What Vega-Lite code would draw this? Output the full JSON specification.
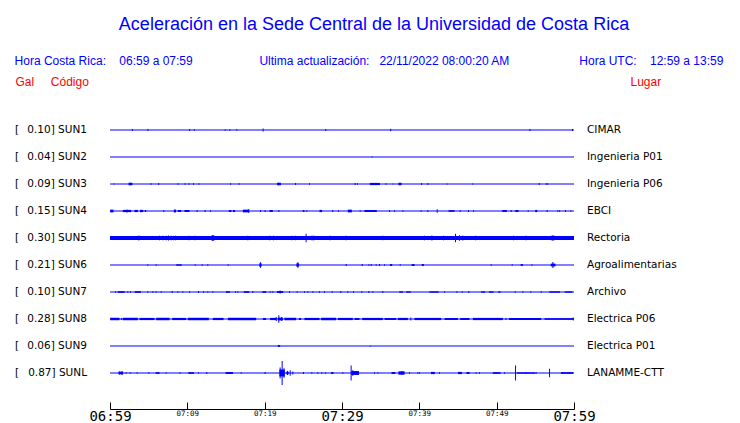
{
  "$schema": "https://vega.github.io/schema/vega-lite/v6.json",
  "autosize": {"type": "none"},
  "width": 464,
  "height": 315,
  "padding": {"left": 110, "top": 94, "right": 166, "bottom": 14},
  "background": "white",
  "config": {"font": "DejaVu Sans", "view": {"stroke": null}},
  "title": {
    "text": "Aceleración en la Sede Central de la Universidad de Costa Rica",
    "subtitle": "Hora Costa Rica:\u00a0\u00a0\u00a0\u00a006:59 a 07:59\u00a0\u00a0\u00a0\u00a0\u00a0\u00a0\u00a0\u00a0\u00a0\u00a0\u00a0\u00a0\u00a0\u00a0\u00a0\u00a0\u00a0\u00a0\u00a0\u00a0Ultima actualización:\u00a0\u00a0\u00a022/11/2022 08:00:20 AM\u00a0\u00a0\u00a0\u00a0\u00a0\u00a0\u00a0\u00a0\u00a0\u00a0\u00a0\u00a0\u00a0\u00a0\u00a0\u00a0\u00a0\u00a0\u00a0\u00a0\u00a0Hora UTC:\u00a0\u00a0\u00a0\u00a012:59 a 13:59\u00a0\u00a0\u00a0\u200b",
    "anchor": "middle",
    "frame": "group",
    "dx": 32,
    "offset": 8,
    "color": "#0000ff",
    "font": "Liberation Sans",
    "fontSize": 18,
    "fontWeight": "normal",
    "subtitleColor": "#0000ff",
    "subtitleFont": "Liberation Sans",
    "subtitleFontSize": 12,
    "subtitlePadding": 22
  },
  "datasets": {
    "stations": [
      {"code": "SUN1", "peak": 0.10, "place": "CIMAR"},
      {"code": "SUN2", "peak": 0.04, "place": "Ingenieria P01"},
      {"code": "SUN3", "peak": 0.09, "place": "Ingenieria P06"},
      {"code": "SUN4", "peak": 0.15, "place": "EBCI"},
      {"code": "SUN5", "peak": 0.30, "place": "Rectoria"},
      {"code": "SUN6", "peak": 0.21, "place": "Agroalimentarias"},
      {"code": "SUN7", "peak": 0.10, "place": "Archivo"},
      {"code": "SUN8", "peak": 0.28, "place": "Electrica P06"},
      {"code": "SUN9", "peak": 0.06, "place": "Electrica P01"},
      {"code": "SUNL", "peak": 0.87, "place": "LANAMME-CTT"}
    ],
    "bands": [
      {"code": "SUN3", "t0": 2.4, "t1": 2.9, "a": 0.09},
      {"code": "SUN3", "t0": 21.6, "t1": 22.1, "a": 0.09},
      {"code": "SUN3", "t0": 33.6, "t1": 34.9, "a": 0.08},
      {"code": "SUN3", "t0": 37.3, "t1": 37.7, "a": 0.09},
      {"code": "SUN4", "t0": 0.02, "t1": 0.45, "a": 0.1},
      {"code": "SUN4", "t0": 1.66, "t1": 2.74, "a": 0.08},
      {"code": "SUN4", "t0": 3.17, "t1": 3.6, "a": 0.08},
      {"code": "SUN4", "t0": 3.9, "t1": 4.3, "a": 0.08},
      {"code": "SUN4", "t0": 4.5, "t1": 4.68, "a": 0.07},
      {"code": "SUN4", "t0": 8.25, "t1": 8.55, "a": 0.09},
      {"code": "SUN4", "t0": 8.77, "t1": 9.2, "a": 0.07},
      {"code": "SUN4", "t0": 9.63, "t1": 10.28, "a": 0.07},
      {"code": "SUN4", "t0": 15.36, "t1": 15.7, "a": 0.07},
      {"code": "SUN4", "t0": 15.9, "t1": 16.18, "a": 0.07},
      {"code": "SUN4", "t0": 17.18, "t1": 17.95, "a": 0.1},
      {"code": "SUN4", "t0": 20.62, "t1": 21.05, "a": 0.07},
      {"code": "SUN4", "t0": 24.93, "t1": 25.15, "a": 0.07},
      {"code": "SUN4", "t0": 27.09, "t1": 27.43, "a": 0.08},
      {"code": "SUN4", "t0": 30.75, "t1": 31.27, "a": 0.1},
      {"code": "SUN4", "t0": 32.91, "t1": 34.5, "a": 0.07},
      {"code": "SUN4", "t0": 43.78, "t1": 44.55, "a": 0.06},
      {"code": "SUN4", "t0": 50.72, "t1": 51.32, "a": 0.07},
      {"code": "SUN4", "t0": 52.4, "t1": 52.83, "a": 0.07},
      {"code": "SUN4", "t0": 54.98, "t1": 55.24, "a": 0.08},
      {"code": "SUN5", "t0": 0, "t1": 60, "a": 0.14},
      {"code": "SUN5", "t0": 13.1, "t1": 13.5, "a": 0.18},
      {"code": "SUN5", "t0": 26.0, "t1": 26.5, "a": 0.16},
      {"code": "SUN5", "t0": 57.0, "t1": 57.5, "a": 0.16},
      {"code": "SUN6", "t0": 8.6, "t1": 9.2, "a": 0.05},
      {"code": "SUN6", "t0": 19.3, "t1": 19.6, "a": 0.12},
      {"code": "SUN6", "t0": 24.1, "t1": 24.45, "a": 0.12},
      {"code": "SUN6", "t0": 36.2, "t1": 36.5, "a": 0.06},
      {"code": "SUN6", "t0": 39.0, "t1": 39.4, "a": 0.06},
      {"code": "SUN6", "t0": 40.3, "t1": 40.6, "a": 0.06},
      {"code": "SUN6", "t0": 53.1, "t1": 53.4, "a": 0.06},
      {"code": "SUN6", "t0": 57.0, "t1": 57.6, "a": 0.1},
      {"code": "SUN7", "t0": 1.0, "t1": 1.9, "a": 0.06},
      {"code": "SUN7", "t0": 3.2, "t1": 4.0, "a": 0.06},
      {"code": "SUN7", "t0": 15.0, "t1": 15.5, "a": 0.06},
      {"code": "SUN7", "t0": 17.3, "t1": 18.0, "a": 0.06},
      {"code": "SUN7", "t0": 19.7, "t1": 20.2, "a": 0.06},
      {"code": "SUN7", "t0": 21.6, "t1": 22.4, "a": 0.07},
      {"code": "SUN7", "t0": 37.4, "t1": 37.9, "a": 0.05},
      {"code": "SUN7", "t0": 38.3, "t1": 38.9, "a": 0.05},
      {"code": "SUN7", "t0": 41.3, "t1": 42.5, "a": 0.05},
      {"code": "SUN7", "t0": 48.0, "t1": 48.5, "a": 0.05},
      {"code": "SUN7", "t0": 49.0, "t1": 49.6, "a": 0.05},
      {"code": "SUN7", "t0": 50.2, "t1": 50.5, "a": 0.05},
      {"code": "SUN7", "t0": 56.8, "t1": 58.2, "a": 0.05},
      {"code": "SUN7", "t0": 58.8, "t1": 59.8, "a": 0.05},
      {"code": "SUN8", "t0": 0.02, "t1": 1.23, "a": 0.09},
      {"code": "SUN8", "t0": 1.66, "t1": 3.6, "a": 0.09},
      {"code": "SUN8", "t0": 3.81, "t1": 5.75, "a": 0.08},
      {"code": "SUN8", "t0": 5.97, "t1": 7.69, "a": 0.09},
      {"code": "SUN8", "t0": 8.04, "t1": 9.85, "a": 0.08},
      {"code": "SUN8", "t0": 10.06, "t1": 12.78, "a": 0.09},
      {"code": "SUN8", "t0": 13.3, "t1": 14.68, "a": 0.08},
      {"code": "SUN8", "t0": 15.24, "t1": 18.9, "a": 0.09},
      {"code": "SUN8", "t0": 19.76, "t1": 20.19, "a": 0.07},
      {"code": "SUN8", "t0": 20.71, "t1": 21.49, "a": 0.08},
      {"code": "SUN8", "t0": 21.7, "t1": 22.35, "a": 0.1},
      {"code": "SUN8", "t0": 22.56, "t1": 24.07, "a": 0.09},
      {"code": "SUN8", "t0": 24.42, "t1": 24.72, "a": 0.07},
      {"code": "SUN8", "t0": 25.15, "t1": 27.09, "a": 0.08},
      {"code": "SUN8", "t0": 27.3, "t1": 29.24, "a": 0.09},
      {"code": "SUN8", "t0": 29.46, "t1": 31.4, "a": 0.08},
      {"code": "SUN8", "t0": 31.62, "t1": 32.26, "a": 0.07},
      {"code": "SUN8", "t0": 32.61, "t1": 35.28, "a": 0.08},
      {"code": "SUN8", "t0": 35.5, "t1": 37.01, "a": 0.07},
      {"code": "SUN8", "t0": 37.22, "t1": 38.52, "a": 0.08},
      {"code": "SUN8", "t0": 39.38, "t1": 42.83, "a": 0.08},
      {"code": "SUN8", "t0": 43.26, "t1": 44.98, "a": 0.07},
      {"code": "SUN8", "t0": 45.28, "t1": 46.49, "a": 0.07},
      {"code": "SUN8", "t0": 46.92, "t1": 50.8, "a": 0.08},
      {"code": "SUN8", "t0": 51.58, "t1": 55.76, "a": 0.08},
      {"code": "SUN8", "t0": 56.19, "t1": 59.94, "a": 0.06},
      {"code": "SUN9", "t0": 21.7, "t1": 22.0, "a": 0.06},
      {"code": "SUNL", "t0": 1.1, "t1": 1.7, "a": 0.1},
      {"code": "SUNL", "t0": 5.9, "t1": 6.4, "a": 0.06},
      {"code": "SUNL", "t0": 10.2, "t1": 10.8, "a": 0.06},
      {"code": "SUNL", "t0": 15.0, "t1": 15.9, "a": 0.07},
      {"code": "SUNL", "t0": 21.9, "t1": 22.6, "a": 0.25},
      {"code": "SUNL", "t0": 22.8, "t1": 23.1, "a": 0.1},
      {"code": "SUNL", "t0": 28.6, "t1": 28.9, "a": 0.07},
      {"code": "SUNL", "t0": 31.2, "t1": 32.2, "a": 0.14},
      {"code": "SUNL", "t0": 36.4, "t1": 36.9, "a": 0.07},
      {"code": "SUNL", "t0": 37.3, "t1": 38.1, "a": 0.12},
      {"code": "SUNL", "t0": 41.5, "t1": 42.0, "a": 0.08},
      {"code": "SUNL", "t0": 45.0, "t1": 45.5, "a": 0.08},
      {"code": "SUNL", "t0": 46.1, "t1": 46.5, "a": 0.07},
      {"code": "SUNL", "t0": 49.5, "t1": 50.5, "a": 0.06},
      {"code": "SUNL", "t0": 52.6, "t1": 55.0, "a": 0.05},
      {"code": "SUNL", "t0": 58.3, "t1": 59.9, "a": 0.06}
    ],
    "spikes": [
      {"code": "SUN1", "t": 2.9, "a": 0.08}, {"code": "SUN1", "t": 4.9, "a": 0.07}, {"code": "SUN1", "t": 10.3, "a": 0.07}, {"code": "SUN1", "t": 10.9, "a": 0.05}, {"code": "SUN1", "t": 14.9, "a": 0.06}, {"code": "SUN1", "t": 15.5, "a": 0.05}, {"code": "SUN1", "t": 16.4, "a": 0.06}, {"code": "SUN1", "t": 19.8, "a": 0.10}, {"code": "SUN1", "t": 27.9, "a": 0.08}, {"code": "SUN1", "t": 36.3, "a": 0.09}, {"code": "SUN1", "t": 54.3, "a": 0.08}, {"code": "SUN1", "t": 59.8, "a": 0.08},
      {"code": "SUN2", "t": 33.9, "a": 0.04},
      {"code": "SUN3", "t": 0.5, "a": 0.04}, {"code": "SUN3", "t": 5.3, "a": 0.05}, {"code": "SUN3", "t": 6.3, "a": 0.07}, {"code": "SUN3", "t": 8.8, "a": 0.05}, {"code": "SUN3", "t": 9.7, "a": 0.06}, {"code": "SUN3", "t": 10.2, "a": 0.06}, {"code": "SUN3", "t": 10.8, "a": 0.05}, {"code": "SUN3", "t": 11.5, "a": 0.06}, {"code": "SUN3", "t": 15.6, "a": 0.05}, {"code": "SUN3", "t": 16.7, "a": 0.06}, {"code": "SUN3", "t": 24.0, "a": 0.07}, {"code": "SUN3", "t": 25.8, "a": 0.06}, {"code": "SUN3", "t": 31.7, "a": 0.07}, {"code": "SUN3", "t": 32.0, "a": 0.06}, {"code": "SUN3", "t": 35.7, "a": 0.05}, {"code": "SUN3", "t": 36.6, "a": 0.04}, {"code": "SUN3", "t": 40.3, "a": 0.07}, {"code": "SUN3", "t": 41.1, "a": 0.07}, {"code": "SUN3", "t": 43.6, "a": 0.04}, {"code": "SUN3", "t": 46.9, "a": 0.04}, {"code": "SUN3", "t": 55.5, "a": 0.08}, {"code": "SUN3", "t": 56.4, "a": 0.05}, {"code": "SUN3", "t": 56.6, "a": 0.06}, {"code": "SUN3", "t": 2.6, "a": 0.09}, {"code": "SUN3", "t": 21.8, "a": 0.09}, {"code": "SUN3", "t": 34.2, "a": 0.08},
      {"code": "SUN4", "t": 8.4, "a": 0.10}, {"code": "SUN4", "t": 6.96, "a": 0.08}, {"code": "SUN4", "t": 11.27, "a": 0.07}, {"code": "SUN4", "t": 12.3, "a": 0.08}, {"code": "SUN4", "t": 12.99, "a": 0.06}, {"code": "SUN4", "t": 17.95, "a": 0.15}, {"code": "SUN4", "t": 19.46, "a": 0.08}, {"code": "SUN4", "t": 20.06, "a": 0.07}, {"code": "SUN4", "t": 21.83, "a": 0.08}, {"code": "SUN4", "t": 25.45, "a": 0.06}, {"code": "SUN4", "t": 28.81, "a": 0.07}, {"code": "SUN4", "t": 29.55, "a": 0.06}, {"code": "SUN4", "t": 32.35, "a": 0.06}, {"code": "SUN4", "t": 36.15, "a": 0.08}, {"code": "SUN4", "t": 36.79, "a": 0.06}, {"code": "SUN4", "t": 37.87, "a": 0.06}, {"code": "SUN4", "t": 40.24, "a": 0.06}, {"code": "SUN4", "t": 41.1, "a": 0.07}, {"code": "SUN4", "t": 42.31, "a": 0.12}, {"code": "SUN4", "t": 45.28, "a": 0.08}, {"code": "SUN4", "t": 46.36, "a": 0.07}, {"code": "SUN4", "t": 47.01, "a": 0.06}, {"code": "SUN4", "t": 51.88, "a": 0.08}, {"code": "SUN4", "t": 54.08, "a": 0.06}, {"code": "SUN4", "t": 56.53, "a": 0.07}, {"code": "SUN4", "t": 57.91, "a": 0.06}, {"code": "SUN4", "t": 58.13, "a": 0.06}, {"code": "SUN4", "t": 58.9, "a": 0.07}, {"code": "SUN4", "t": 59.6, "a": 0.06}, {"code": "SUN4", "t": 2.2, "a": 0.10}, {"code": "SUN4", "t": 4.0, "a": 0.09},
      {"code": "SUN5", "t": 3.73, "a": 0.18}, {"code": "SUN5", "t": 6.4, "a": 0.16}, {"code": "SUN5", "t": 6.83, "a": 0.17}, {"code": "SUN5", "t": 7.26, "a": 0.16}, {"code": "SUN5", "t": 7.56, "a": 0.18}, {"code": "SUN5", "t": 7.91, "a": 0.17}, {"code": "SUN5", "t": 8.21, "a": 0.16}, {"code": "SUN5", "t": 8.47, "a": 0.17}, {"code": "SUN5", "t": 10.19, "a": 0.16}, {"code": "SUN5", "t": 10.97, "a": 0.17}, {"code": "SUN5", "t": 13.3, "a": 0.22}, {"code": "SUN5", "t": 17.82, "a": 0.16}, {"code": "SUN5", "t": 20.62, "a": 0.17}, {"code": "SUN5", "t": 21.14, "a": 0.16}, {"code": "SUN5", "t": 23.51, "a": 0.17}, {"code": "SUN5", "t": 23.94, "a": 0.16}, {"code": "SUN5", "t": 25.36, "a": 0.30}, {"code": "SUN5", "t": 28.47, "a": 0.16}, {"code": "SUN5", "t": 30.54, "a": 0.16}, {"code": "SUN5", "t": 35.28, "a": 0.17}, {"code": "SUN5", "t": 40.67, "a": 0.17}, {"code": "SUN5", "t": 41.62, "a": 0.18}, {"code": "SUN5", "t": 43.13, "a": 0.16}, {"code": "SUN5", "t": 44.68, "a": 0.30}, {"code": "SUN5", "t": 45.2, "a": 0.20}, {"code": "SUN5", "t": 45.63, "a": 0.18}, {"code": "SUN5", "t": 47.27, "a": 0.17}, {"code": "SUN5", "t": 52.18, "a": 0.16}, {"code": "SUN5", "t": 53.82, "a": 0.16}, {"code": "SUN5", "t": 57.27, "a": 0.20},
      {"code": "SUN6", "t": 4.89, "a": 0.05}, {"code": "SUN6", "t": 5.97, "a": 0.06}, {"code": "SUN6", "t": 8.68, "a": 0.06}, {"code": "SUN6", "t": 9.2, "a": 0.06}, {"code": "SUN6", "t": 11.01, "a": 0.05}, {"code": "SUN6", "t": 11.92, "a": 0.05}, {"code": "SUN6", "t": 12.65, "a": 0.05}, {"code": "SUN6", "t": 15.28, "a": 0.06}, {"code": "SUN6", "t": 19.46, "a": 0.20}, {"code": "SUN6", "t": 24.29, "a": 0.20}, {"code": "SUN6", "t": 30.54, "a": 0.07}, {"code": "SUN6", "t": 32.61, "a": 0.07}, {"code": "SUN6", "t": 33.47, "a": 0.06}, {"code": "SUN6", "t": 33.78, "a": 0.07}, {"code": "SUN6", "t": 34.42, "a": 0.06}, {"code": "SUN6", "t": 34.85, "a": 0.07}, {"code": "SUN6", "t": 35.5, "a": 0.06}, {"code": "SUN6", "t": 36.36, "a": 0.07}, {"code": "SUN6", "t": 37.53, "a": 0.06}, {"code": "SUN6", "t": 39.16, "a": 0.07}, {"code": "SUN6", "t": 40.46, "a": 0.07}, {"code": "SUN6", "t": 49.29, "a": 0.05}, {"code": "SUN6", "t": 52.01, "a": 0.05}, {"code": "SUN6", "t": 53.26, "a": 0.07}, {"code": "SUN6", "t": 54.55, "a": 0.05}, {"code": "SUN6", "t": 57.27, "a": 0.21},
      {"code": "SUN7", "t": 0.71, "a": 0.06}, {"code": "SUN7", "t": 2.3, "a": 0.05}, {"code": "SUN7", "t": 2.65, "a": 0.06}, {"code": "SUN7", "t": 4.89, "a": 0.05}, {"code": "SUN7", "t": 5.54, "a": 0.05}, {"code": "SUN7", "t": 5.97, "a": 0.06}, {"code": "SUN7", "t": 6.61, "a": 0.06}, {"code": "SUN7", "t": 8.04, "a": 0.07}, {"code": "SUN7", "t": 8.77, "a": 0.05}, {"code": "SUN7", "t": 9.42, "a": 0.06}, {"code": "SUN7", "t": 10.28, "a": 0.05}, {"code": "SUN7", "t": 11.44, "a": 0.07}, {"code": "SUN7", "t": 12.09, "a": 0.06}, {"code": "SUN7", "t": 12.65, "a": 0.06}, {"code": "SUN7", "t": 13.3, "a": 0.05}, {"code": "SUN7", "t": 16.23, "a": 0.06}, {"code": "SUN7", "t": 16.53, "a": 0.05}, {"code": "SUN7", "t": 18.47, "a": 0.07}, {"code": "SUN7", "t": 20.71, "a": 0.06}, {"code": "SUN7", "t": 21.05, "a": 0.05}, {"code": "SUN7", "t": 22.0, "a": 0.10}, {"code": "SUN7", "t": 23.21, "a": 0.05}, {"code": "SUN7", "t": 24.2, "a": 0.06}, {"code": "SUN7", "t": 25.15, "a": 0.05}, {"code": "SUN7", "t": 25.58, "a": 0.06}, {"code": "SUN7", "t": 26.23, "a": 0.05}, {"code": "SUN7", "t": 27.09, "a": 0.06}, {"code": "SUN7", "t": 27.74, "a": 0.05}, {"code": "SUN7", "t": 28.73, "a": 0.06}, {"code": "SUN7", "t": 29.85, "a": 0.07}, {"code": "SUN7", "t": 30.75, "a": 0.06}, {"code": "SUN7", "t": 31.49, "a": 0.05}, {"code": "SUN7", "t": 32.56, "a": 0.06}, {"code": "SUN7", "t": 33.47, "a": 0.07}, {"code": "SUN7", "t": 33.99, "a": 0.06}, {"code": "SUN7", "t": 35.28, "a": 0.07}, {"code": "SUN7", "t": 43.26, "a": 0.06}, {"code": "SUN7", "t": 44.85, "a": 0.05}, {"code": "SUN7", "t": 45.54, "a": 0.06}, {"code": "SUN7", "t": 46.4, "a": 0.07}, {"code": "SUN7", "t": 52.4, "a": 0.05}, {"code": "SUN7", "t": 53.39, "a": 0.06}, {"code": "SUN7", "t": 54.42, "a": 0.05}, {"code": "SUN7", "t": 55.76, "a": 0.05},
      {"code": "SUN8", "t": 21.83, "a": 0.28}, {"code": "SUN8", "t": 21.5, "a": 0.15}, {"code": "SUN8", "t": 22.2, "a": 0.14}, {"code": "SUN8", "t": 38.9, "a": 0.10}, {"code": "SUN8", "t": 51.2, "a": 0.08}, {"code": "SUN8", "t": 59.9, "a": 0.10}, {"code": "SUN8", "t": 1.5, "a": 0.08},
      {"code": "SUN9", "t": 21.83, "a": 0.06}, {"code": "SUN9", "t": 33.65, "a": 0.04},
      {"code": "SUNL", "t": 1.23, "a": 0.10}, {"code": "SUNL", "t": 1.57, "a": 0.12}, {"code": "SUNL", "t": 2.09, "a": 0.06}, {"code": "SUNL", "t": 2.61, "a": 0.05}, {"code": "SUNL", "t": 3.51, "a": 0.05}, {"code": "SUNL", "t": 5.02, "a": 0.05}, {"code": "SUNL", "t": 6.27, "a": 0.06}, {"code": "SUNL", "t": 7.26, "a": 0.05}, {"code": "SUNL", "t": 9.07, "a": 0.06}, {"code": "SUNL", "t": 10.2, "a": 0.06}, {"code": "SUNL", "t": 10.8, "a": 0.05}, {"code": "SUNL", "t": 11.44, "a": 0.06}, {"code": "SUNL", "t": 12.52, "a": 0.07}, {"code": "SUNL", "t": 15.0, "a": 0.06}, {"code": "SUNL", "t": 15.45, "a": 0.06}, {"code": "SUNL", "t": 16.96, "a": 0.06}, {"code": "SUNL", "t": 20.06, "a": 0.08}, {"code": "SUNL", "t": 22.26, "a": 0.87}, {"code": "SUNL", "t": 22.0, "a": 0.40}, {"code": "SUNL", "t": 22.5, "a": 0.35}, {"code": "SUNL", "t": 22.95, "a": 0.15}, {"code": "SUNL", "t": 23.3, "a": 0.20}, {"code": "SUNL", "t": 23.64, "a": 0.10}, {"code": "SUNL", "t": 25.02, "a": 0.08}, {"code": "SUNL", "t": 26.1, "a": 0.06}, {"code": "SUNL", "t": 26.87, "a": 0.06}, {"code": "SUNL", "t": 27.39, "a": 0.06}, {"code": "SUNL", "t": 27.86, "a": 0.06}, {"code": "SUNL", "t": 28.73, "a": 0.08}, {"code": "SUNL", "t": 30.11, "a": 0.06}, {"code": "SUNL", "t": 31.18, "a": 0.55}, {"code": "SUNL", "t": 31.4, "a": 0.20}, {"code": "SUNL", "t": 34.21, "a": 0.06}, {"code": "SUNL", "t": 34.64, "a": 0.06}, {"code": "SUNL", "t": 36.58, "a": 0.08}, {"code": "SUNL", "t": 37.74, "a": 0.14}, {"code": "SUNL", "t": 38.73, "a": 0.06}, {"code": "SUNL", "t": 39.81, "a": 0.06}, {"code": "SUNL", "t": 40.03, "a": 0.06}, {"code": "SUNL", "t": 41.75, "a": 0.08}, {"code": "SUNL", "t": 42.61, "a": 0.06}, {"code": "SUNL", "t": 45.2, "a": 0.07}, {"code": "SUNL", "t": 46.28, "a": 0.07}, {"code": "SUNL", "t": 47.35, "a": 0.06}, {"code": "SUNL", "t": 47.78, "a": 0.06}, {"code": "SUNL", "t": 49.94, "a": 0.06}, {"code": "SUNL", "t": 51.02, "a": 0.06}, {"code": "SUNL", "t": 52.44, "a": 0.55}, {"code": "SUNL", "t": 53.82, "a": 0.06}, {"code": "SUNL", "t": 55.11, "a": 0.06}, {"code": "SUNL", "t": 56.84, "a": 0.30}, {"code": "SUNL", "t": 58.47, "a": 0.06}, {"code": "SUNL", "t": 59.42, "a": 0.06}
    ]
  },
  "resolve": {"axis": {"y": "independent"}},
  "layer": [
    {
      "data": {"name": "stations"},
      "mark": {"type": "rule", "color": "#0000ff", "strokeWidth": 1},
      "encoding": {
        "x": {
          "datum": 0, "type": "quantitative",
          "scale": {"domain": [0, 60], "nice": false, "zero": false},
          "axis": {
            "title": null,
            "values": [0, 5, 10, 15, 20, 25, 30, 35, 40, 45, 50, 55, 60],
            "labelExpr": "datum.value % 10 ? '' : (floor((419 + datum.value) / 60) < 10 ? '0' : '') + floor((419 + datum.value) / 60) + ':' + (((419 + datum.value) % 60) < 10 ? '0' : '') + ((419 + datum.value) % 60)",
            "labelFont": "DejaVu Sans Mono",
            "labelFontSize": {"condition": {"test": "datum.value % 30 === 0", "value": 14}, "value": 7.5},
            "labelColor": "black",
            "labelPadding": 7,
            "labelOffset": 0,
            "labelOverlap": false,
            "labelFlush": false,
            "labelBound": false,
            "tickSize": -7,
            "tickColor": "black",
            "tickWidth": 1,
            "domainColor": "black",
            "domainWidth": 1,
            "grid": false
          }
        },
        "x2": {"datum": 60},
        "y": {"field": "code", "type": "nominal", "scale": {"type": "point", "range": [36, 279], "padding": 0, "domain": ["SUN1", "SUN2", "SUN3", "SUN4", "SUN5", "SUN6", "SUN7", "SUN8", "SUN9", "SUNL"]}, "axis": null}
      }
    },
    {
      "data": {"name": "bands"},
      "mark": {"type": "rule", "color": "#0000ff", "strokeCap": "butt"},
      "encoding": {
        "x": {"field": "t0", "type": "quantitative"},
        "x2": {"field": "t1"},
        "y": {"field": "code", "type": "nominal", "axis": null},
        "strokeWidth": {"field": "a", "type": "quantitative", "scale": {"domain": [0, 1], "range": [0, 27.6]}, "legend": null}
      }
    },
    {
      "data": {"name": "spikes"},
      "mark": {"type": "tick", "color": "#0000ff", "thickness": 1, "opacity": 1},
      "encoding": {
        "x": {"field": "t", "type": "quantitative"},
        "y": {"field": "code", "type": "nominal", "axis": null},
        "size": {"field": "a", "type": "quantitative", "scale": {"domain": [0, 1], "range": [0, 27.6]}, "legend": null}
      }
    },
    {
      "data": {"name": "stations"},
      "mark": {"type": "text", "align": "left", "baseline": "middle", "dx": -95, "font": "DejaVu Sans", "fontSize": 10.5, "color": "black"},
      "encoding": {
        "x": {"datum": 0, "type": "quantitative"},
        "y": {
          "field": "code", "type": "nominal",
          "axis": {"orient": "left", "title": "Gal\u00a0\u00a0\u00a0\u00a0\u00a0Código", "titleAngle": 0, "titleAlign": "left", "titleBaseline": "alphabetic", "titleX": -95, "titleY": -9, "titleColor": "#ff0000", "titleFont": "Liberation Sans", "titleFontSize": 12, "titleFontWeight": "normal", "labels": false, "ticks": false, "domain": false, "grid": false}
        },
        "text": {"value": "["}
      }
    },
    {
      "data": {"name": "stations"},
      "transform": [{"calculate": "format(datum.peak, '.2f') + '] ' + datum.code", "as": "label"}],
      "mark": {"type": "text", "align": "right", "baseline": "middle", "dx": -23, "font": "DejaVu Sans", "fontSize": 10.5, "color": "black"},
      "encoding": {
        "x": {"datum": 0, "type": "quantitative"},
        "y": {"field": "code", "type": "nominal", "axis": null},
        "text": {"field": "label"}
      }
    },
    {
      "data": {"name": "stations"},
      "mark": {"type": "text", "align": "left", "baseline": "middle", "dx": 13, "font": "DejaVu Sans", "fontSize": 10.5, "color": "black"},
      "encoding": {
        "x": {"datum": 60, "type": "quantitative"},
        "y": {
          "field": "code", "type": "nominal",
          "axis": {"orient": "right", "title": "Lugar", "titleAngle": 0, "titleAlign": "left", "titleBaseline": "alphabetic", "titleX": 56, "titleY": -9, "titleColor": "#ff0000", "titleFont": "Liberation Sans", "titleFontSize": 12, "titleFontWeight": "normal", "labels": false, "ticks": false, "domain": false, "grid": false}
        },
        "text": {"field": "place"}
      }
    }
  ]
}
